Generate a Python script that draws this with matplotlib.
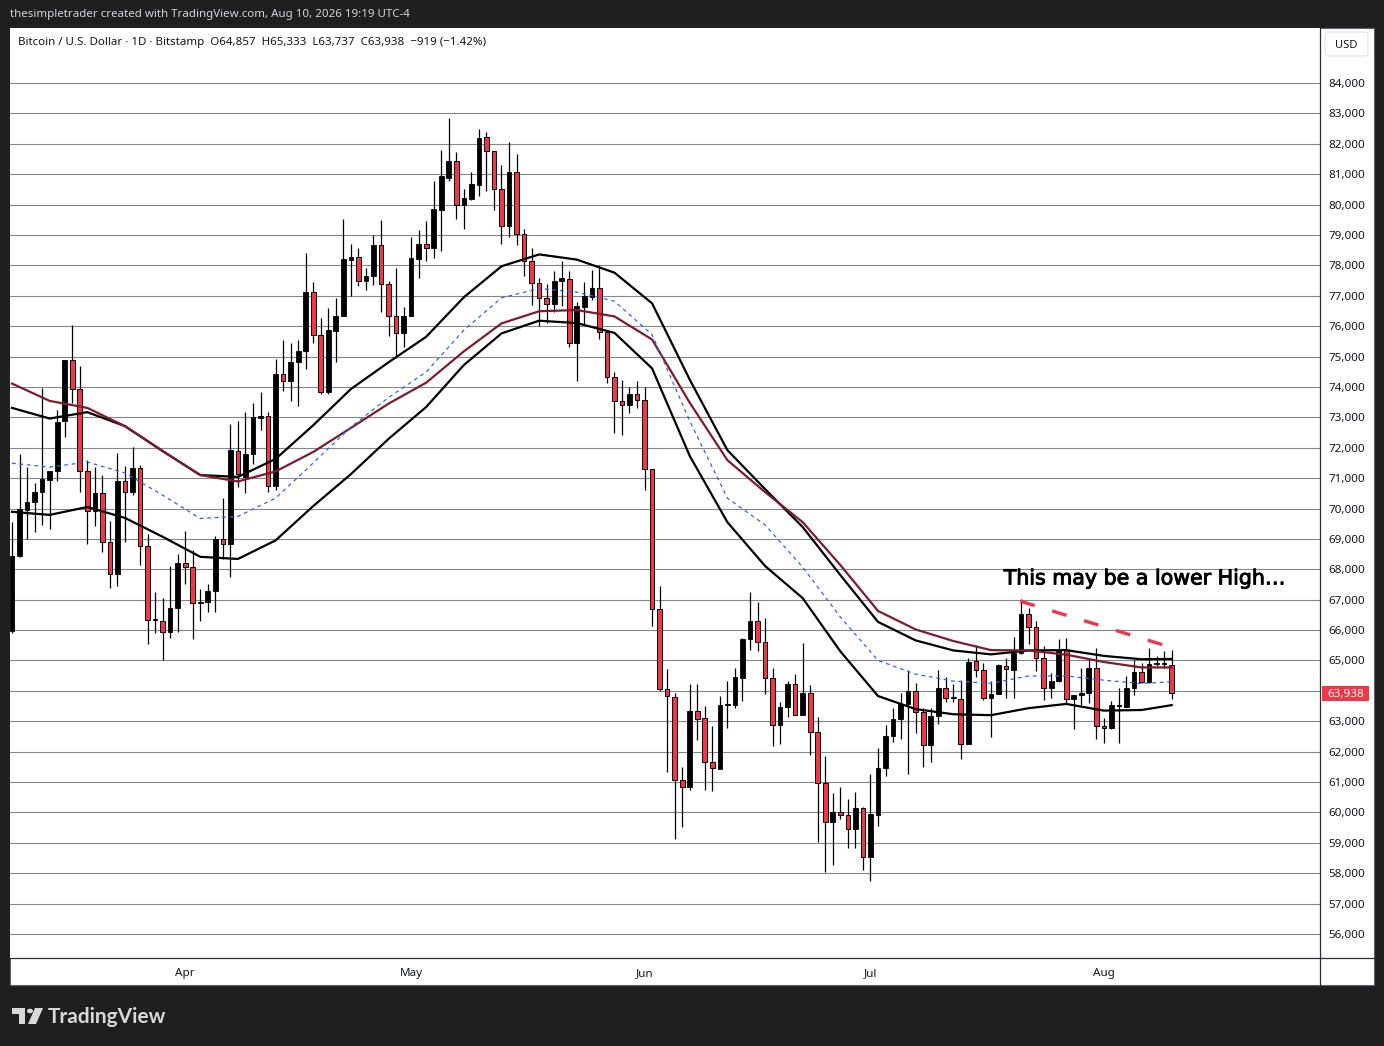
import numpy as np
import pandas as pd
import matplotlib
matplotlib.use("Agg")
import matplotlib.pyplot as plt
import matplotlib.patheffects as pe
from matplotlib.patches import Rectangle, FancyBboxPatch, Polygon, Circle
from matplotlib.lines import Line2D

# ---------------- data (BTC/USD daily, Bitstamp) ----------------
START = "2026-03-09"

OPEN = [65980, 68440, 69960, 70200, 70530, 70950, 71220, 72870, 74880, 73920,
        71240, 69930, 70500, 68910, 67860, 70890, 70530, 71320, 68780, 66320,
        66310, 65940, 66720, 68200, 68080, 66890, 66920, 67290, 68990, 68830,
        71890, 71040, 71800, 72990, 73040, 70750, 74440, 74180, 74820, 75170,
        77120, 75720, 73820, 75850, 76350, 78180, 78260, 77470, 77640, 78670,
        77380, 76320, 75760, 76320, 78220, 78700, 78560, 79830, 80890, 81420,
        79990, 80190, 80650, 82210, 81750, 80510, 79280, 81060, 79040, 78130,
        77410, 76940, 76740, 77470, 77560, 75460, 76640, 76970, 77250, 75820,
        74340, 73530, 73390, 73780, 73560, 71300, 66690, 64050, 63810, 61070,
        60850, 63330, 63110, 61670, 61420, 63530, 63530, 64430, 65700, 66290,
        65620, 64430, 62890, 63470, 64230, 63220, 63930, 62650, 60980, 59700,
        60010, 59920, 59460, 60140, 58530, 59930, 61460, 62520, 63070, 63560,
        64000, 63310, 62230, 63180, 64100, 63760, 63730, 62260, 64980, 64700,
        63780, 63910, 64810, 64700, 65230, 66540, 66100, 65090, 64100, 64320,
        65330, 63740, 63870, 63930, 64760, 62840, 62780, 63550, 63460, 64100,
        64630, 64300, 64870, 64870, 64857]
HIGH = [69570, 71790, 71360, 70850, 73970, 71250, 73230, 74900, 76030, 74680,
        71600, 71360, 71090, 69580, 71820, 71400, 72040, 71440, 69150, 67240,
        67060, 68110, 68500, 69260, 68650, 67340, 67520, 69110, 70360, 72770,
        72870, 73170, 73460, 73820, 73170, 74910, 75550, 75440, 75550, 78400,
        77450, 76270, 76590, 76940, 79520, 78700, 78570, 77910, 78990, 79480,
        77490, 77910, 76630, 78920, 79160, 79450, 80780, 81780, 82850, 81720,
        80510, 81060, 82480, 82390, 81760, 81290, 82060, 81660, 79190, 78570,
        77580, 77380, 77800, 78130, 77830, 76800, 77460, 77850, 78000, 75830,
        74480, 74220, 74010, 74190, 74010, 71300, 67450, 64720, 63940, 61510,
        64240, 64240, 63510, 62830, 63840, 64340, 64740, 65750, 67260, 66930,
        66390, 64760, 63620, 64340, 64540, 65560, 64190, 63150, 61860, 60650,
        60840, 60450, 60670, 60180, 61270, 62120, 62870, 63440, 63930, 64680,
        64260, 63440, 63440, 64680, 64450, 64240, 64350, 65070, 65510, 64930,
        64320, 64870, 65090, 65770, 67010, 66740, 66300, 65470, 64590, 65710,
        65750, 63880, 64760, 65090, 65400, 63110, 63660, 64080, 64480, 65000,
        64920, 65420, 65140, 65310, 65333]
LOW = [65890, 68410, 69000, 69240, 69470, 69330, 70920, 72340, 73470, 70530,
       68840, 69440, 68580, 67400, 67450, 68910, 70430, 68140, 65540, 65910,
       65020, 65750, 65930, 67530, 65690, 66290, 66610, 66610, 68330, 67750,
       70710, 70520, 71460, 72570, 70550, 70600, 73870, 73550, 73360, 74600,
       75440, 73770, 73770, 74820, 76320, 77000, 77330, 77200, 77360, 76480,
       75680, 74950, 75320, 76320, 77580, 78130, 78240, 78460, 80760, 79530,
       79200, 80160, 80290, 80460, 79830, 78710, 78920, 78660, 77640, 76700,
       76010, 76120, 76480, 76650, 75320, 74200, 76050, 76870, 75580, 74140,
       72500, 72420, 73150, 73320, 70610, 66140, 64000, 61340, 59140, 59530,
       60750, 62390, 60750, 60710, 61420, 62770, 63440, 63660, 65340, 65310,
       63890, 62190, 62240, 63140, 63200, 63220, 61880, 59020, 58050, 58270,
       59770, 58820, 58820, 58090, 57730, 59550, 61200, 62320, 62410, 61270,
       62620, 61490, 61660, 62900, 63640, 63620, 61770, 62240, 64460, 63710,
       62480, 63900, 63770, 63770, 65200, 65550, 64650, 63710, 63770, 64300,
       63600, 62730, 63550, 63600, 62400, 62290, 62760, 62290, 63460, 63860,
       64260, 64260, 64810, 64760, 63737]
CLOSE = [68450, 69980, 70210, 70540, 70970, 71220, 72840, 74890, 73920, 71250,
         69930, 70500, 68910, 67860, 70890, 70530, 71320, 68780, 66330, 66340,
         65940, 66720, 68210, 68080, 66890, 66920, 67290, 69000, 68830, 71930,
         71130, 71800, 73000, 73060, 70750, 74440, 74180, 74810, 75170, 77120,
         75720, 73820, 75870, 76350, 78210, 78260, 77470, 77640, 78670, 77380,
         76320, 75760, 76320, 78240, 78700, 78560, 79850, 80930, 81450, 79990,
         80210, 80670, 82190, 81750, 80500, 79280, 81070, 79040, 78130, 77410,
         76940, 76740, 77470, 77570, 75460, 76650, 76990, 77250, 75820, 74340,
         73530, 73390, 73770, 73570, 71300, 66690, 64050, 63840, 61070, 60850,
         63330, 63060, 61670, 61470, 63550, 63560, 64440, 65720, 66290, 65620,
         64430, 62890, 63480, 64230, 63220, 63930, 62650, 60980, 59680, 60010,
         59920, 59460, 60140, 58530, 59960, 61460, 62520, 63090, 63570, 64000,
         63310, 62230, 63180, 64100, 63780, 63780, 62260, 64960, 64700, 63780,
         63910, 64840, 64730, 65250, 66540, 66100, 65090, 64100, 64320, 65340,
         63740, 63870, 63930, 64760, 62840, 62780, 63550, 63490, 64100, 64630,
         64300, 64890, 64890, 64910, 63938]

# indicator lines, read every 5 bars
MA_IDX = [0, 5, 10, 15, 20, 25, 30, 35, 40, 45, 50, 55, 60, 65, 70, 75,
          80, 85, 90, 95, 100, 105, 110, 115, 120, 125, 130, 135, 140, 145, 150, 154]
RED_MA = [74110, 73540, 73310, 72710, 71890, 71100, 70890, 71220, 71860, 72650,
          73450, 74140, 75170, 76090, 76490, 76530, 76320, 75560, 73480, 71590,
          70540, 69550, 68140, 66630, 66020, 65640, 65340, 65330, 65190, 64950,
          64770, 64770]
UPPER = [73310, 72960, 73170, 72710, 71890, 71100, 71040, 71630, 72740, 73930,
         74810, 75650, 76950, 77970, 78360, 78190, 77760, 76750, 74240, 71920,
         70640, 69390, 67810, 66270, 65660, 65330, 65200, 65330, 65340, 65150,
         65040, 65050]
MIDDLE = [71490, 71360, 71530, 71170, 70440, 69670, 69740, 70340, 71500, 72680,
          73650, 74490, 75870, 76930, 77240, 77120, 76820, 75720, 72880, 70340,
          69460, 68070, 66430, 65000, 64550, 64320, 64250, 64490, 64490, 64350,
          64240, 64300]
LOWER = [69890, 69790, 70050, 69690, 69070, 68410, 68340, 68950, 70080, 71130,
         72290, 73340, 74720, 75760, 76180, 76100, 75780, 74610, 71730, 69550,
         68110, 67050, 65300, 63830, 63400, 63230, 63200, 63430, 63570, 63350,
         63370, 63530]

# dashed "lower high" trend line (bar index, price)
TREND_X = [133.9, 152.9]
TREND_Y = [66950, 65510]

PRICE_TICKS = list(range(56000, 84001, 1000))

# ---------------- figure ----------------
W, H = 1384, 1046
BG = "#1f1f1f"
UP = "#000000"
DOWN = "#f23645"
TXT = "#131722"


def fx(px):
    return px / W


def fy(py):
    return 1 - py / H


fig = plt.figure(figsize=(W / 100, H / 100), dpi=100, facecolor=BG)

# white chart panel (behind the axes)
fig.add_artist(Rectangle((fx(10), fy(985)), fx(1374) - fx(10), fy(28) - fy(985),
                         transform=fig.transFigure, facecolor="white",
                         edgecolor="#5d606b", lw=0.8, zorder=-5))

ax = fig.add_axes([fx(10), fy(958), fx(1320) - fx(10), fy(28) - fy(958)])
ax.set_zorder(1)
ax.set_facecolor("white")

dates = pd.date_range(START, periods=len(OPEN), freq="D")
x = np.arange(len(dates))
o = np.array(OPEN, float)
h = np.array(HIGH, float)
l = np.array(LOW, float)
c = np.array(CLOSE, float)
up = c >= o

# candles
ax.vlines(x, l, h, color="black", lw=0.9, zorder=2)
body_bot = np.minimum(o, c)
body_h = np.maximum(np.abs(c - o), 40)
ax.bar(x[up], body_h[up], bottom=body_bot[up], width=0.62,
       color=UP, edgecolor=UP, lw=0.6, zorder=3)
ax.bar(x[~up], body_h[~up], bottom=body_bot[~up], width=0.62,
       color=DOWN, edgecolor="black", lw=0.7, zorder=3)

# indicator lines
ax.plot(MA_IDX, UPPER, color="black", lw=1.6, zorder=4, solid_joinstyle="round")
ax.plot(MA_IDX, LOWER, color="black", lw=1.6, zorder=4, solid_joinstyle="round")
ax.plot(MA_IDX, RED_MA, color="#801b2a", lw=1.6, zorder=4, solid_joinstyle="round")
ax.plot(MA_IDX, MIDDLE, color="#2962ff", lw=0.9, ls=(0, (3, 3)), zorder=4)

# trend line + note
ax.plot(TREND_X, TREND_Y, color=DOWN, lw=2.4, ls=(0, (4.5, 5.5)), zorder=5)
note = ax.text(131.7, 67700, "This may be a lower High\u2026", fontsize=14.8,
               family="DejaVu Sans", color="#000000", va="center", ha="left", zorder=6)
note.set_path_effects([pe.withStroke(linewidth=0.7, foreground="#000000")])

# axes
ax.set_xlim(-0.27, 173.7)
ax.set_ylim(55210, 85810)
ax.set_yticks(PRICE_TICKS)
ax.set_yticklabels([f"{v:,}" for v in PRICE_TICKS])
ax.yaxis.tick_right()
ax.tick_params(axis="y", length=0, pad=6, labelsize=8.4, labelcolor=TXT)
month_idx = [i for i, d in enumerate(dates) if d.day == 1]
ax.set_xticks(month_idx)
ax.set_xticklabels([dates[i].strftime("%b") for i in month_idx])
ax.tick_params(axis="x", length=0, pad=7, labelsize=8.4, labelcolor=TXT)
for lab in ax.get_xticklabels() + ax.get_yticklabels():
    lab.set_family("Noto Sans")
ax.grid(axis="y", color="#85878f", lw=0.8)
ax.set_axisbelow(True)
for s in ax.spines.values():
    s.set_visible(False)

# panel separators
fig.add_artist(Line2D([fx(10), fx(1374)], [fy(958), fy(958)], color="#2a2e39",
                      lw=0.9, transform=fig.transFigure, zorder=3))
fig.add_artist(Line2D([fx(1320), fx(1320)], [fy(28), fy(985)], color="#2a2e39",
                      lw=0.9, transform=fig.transFigure, zorder=3))

# USD box
fig.add_artist(FancyBboxPatch((fx(1325), fy(56)), fx(1368) - fx(1325), fy(32) - fy(56),
                              boxstyle="round,pad=0,rounding_size=0.003",
                              transform=fig.transFigure, facecolor="white",
                              edgecolor="#e0e3eb", lw=0.8, zorder=3))
fig.text(fx(1346), fy(45), "USD", fontsize=8, family="Noto Sans", color=TXT,
         ha="center", va="center", zorder=4)

# last price label
fig.add_artist(Rectangle((fx(1322), fy(701)), fx(1369) - fx(1322), fy(686) - fy(701),
                         transform=fig.transFigure, facecolor=DOWN, edgecolor="none", zorder=3))
fig.text(fx(1346), fy(694), f"{CLOSE[-1]:,}", fontsize=8.4, family="Noto Sans",
         color="white", ha="center", va="center", zorder=4)

# header lines
fig.text(fx(10), fy(15), "thesimpletrader created with TradingView.com, Aug 10, 2026 19:19 UTC-4",
         fontsize=8.3, family="Noto Sans", color="#d1d4dc", ha="left", va="center")
chg = CLOSE[-1] - OPEN[-1]
legend = (f"Bitcoin / U.S. Dollar \u00b7 1D \u00b7 Bitstamp  O{OPEN[-1]:,}  H{HIGH[-1]:,}  "
          f"L{LOW[-1]:,}  C{CLOSE[-1]:,}  \u2212{abs(chg):,} (\u2212{abs(chg) / OPEN[-1] * 100:.2f}%)")
fig.text(fx(18), fy(43), legend, fontsize=8.3, family="Noto Sans", color=TXT,
         ha="left", va="center", zorder=4)

# TradingView logo
LOGO = "#d9d9d9"
fig.add_artist(Polygon([(fx(12), fy(1008)), (fx(25), fy(1008)), (fx(25), fy(1024)),
                        (fx(19), fy(1024)), (fx(19), fy(1014)), (fx(12), fy(1014))],
                       closed=True, transform=fig.transFigure, facecolor=LOGO, edgecolor="none"))
fig.add_artist(Circle((fx(30), fy(1011)), 3 / W, transform=fig.transFigure,
                      facecolor=LOGO, edgecolor="none"))
fig.add_artist(Polygon([(fx(35), fy(1008)), (fx(43), fy(1008)), (fx(36), fy(1024)),
                        (fx(28), fy(1024))],
                       closed=True, transform=fig.transFigure, facecolor=LOGO, edgecolor="none"))
fig.text(fx(48), fy(1017), "TradingView", fontsize=15, family="Lato", weight="bold",
         color=LOGO, ha="left", va="center")

fig.savefig("out.png", dpi=100, facecolor=BG)
